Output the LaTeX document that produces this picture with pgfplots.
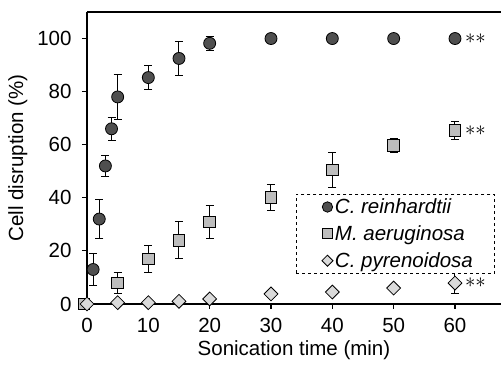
\documentclass[border=0pt]{standalone}
\usepackage{fontspec}
\setmainfont{Liberation Sans}
\usepackage{pgfplots}
\usepackage{pgfplotstable}
\pgfplotsset{compat=1.18}
\definecolor{cdark}{HTML}{4F4F4F}
\definecolor{cmid}{HTML}{BDBDBD}
\definecolor{clight}{HTML}{DADADA}
\pgfplotstableread{
x y e
1 13 6
2 32 7.5
3 52 4
4 66 4.3
5 78 8.5
10 85.3 4.5
15 92.5 6.5
20 98.2 2.6
30 100 0
40 100 0
50 100 0
60 100 0
}\reinh
\pgfplotstableread{
x y e
-0.5 0 0
5 8 4
10 17 5
15 24 7
20 31 6.2
30 40.2 4.8
40 50.5 6.7
50 59.7 2.5
60 65.4 3.5
}\aerug
\pgfplotstableread{
x y e
0 0 0
5 0.5 0.3
10 0.5 0.3
15 1 0.4
20 1.9 0.5
30 3.8 1.3
40 4.5 0.6
50 6 0.6
60 7.9 3.8
}\pyren
\pgfplotsset{
  ebar/.style={forget plot, draw=none, mark=none,
    error bars/.cd, y dir=both, y explicit,
    error bar style={solid, line width=1pt, black},
    error mark options={solid, line width=1pt, mark size=4pt, black, rotate=90}},
}
\begin{document}
\begin{tikzpicture}[font=\fontsize{20.5}{24}\selectfont]
\begin{axis}[
  scale only axis, width=414pt, height=292pt,
  xmin=0, xmax=67.5, ymin=0, ymax=110,
  axis x line=box, axis y line=left,
  axis line style={-, line width=1.1pt},
  xtick={0,10,...,60}, ytick={0,20,...,100},
  tick align=outside, xtick pos=bottom, ytick pos=left,
  major tick length=5pt, tick style={line width=1.1pt, black},
  /pgf/number format/assume math mode=true,
  xticklabel style={yshift=-6pt},
  yticklabel style={xshift=-7pt},
  xlabel={Sonication time (min)}, ylabel={Cell disruption (\%)},
  xlabel style={yshift=-1pt},
  ylabel style={yshift=3pt},
  clip=false,
  legend style={at={(rel axis cs:0.505,0.377)}, anchor=north west,
    draw=black, dashed, line width=0.8pt, font=\fontsize{20.5}{24}\selectfont\itshape,
    row sep=6.5pt, inner xsep=16pt, inner ysep=2.5pt},
  legend cell align=left,
  legend image code/.code={\path[draw=none, fill=none] (0pt,0pt) -- (20pt,0pt);
    \draw[#1] plot coordinates {(15pt,0pt)};},
]
\addplot[ebar] table[x=x, y=y, y error=e] {\reinh};
\addplot[ebar] table[x=x, y=y, y error=e] {\aerug};
\addplot[ebar] table[x=x, y=y, y error=e] {\pyren};
\addplot[only marks, mark=*, mark size=6pt,
  mark options={solid, fill=cdark, draw=black, line width=0.8pt},
  legend image post style={mark size=5.2pt}]
  table[x=x, y=y] {\reinh};
\addlegendentry{C. reinhardtii}
\addplot[only marks, mark=square*, mark size=5.8pt,
  mark options={solid, fill=cmid, draw=black, line width=0.8pt},
  legend image post style={mark size=5pt}]
  table[x=x, y=y] {\aerug};
\addlegendentry{M. aeruginosa}
\addplot[only marks, mark=square*, mark size=4.9pt,
  mark options={solid, fill=clight, draw=black, line width=0.8pt, rotate=45},
  legend image post style={mark size=3.9pt}]
  table[x=x, y=y] {\pyren};
\addlegendentry{C. pyrenoidosa\hspace*{4pt}}
\node[anchor=west, inner sep=0pt] at (axis cs:61.6,100) {${\ast}{\ast}$};
\node[anchor=west, inner sep=0pt] at (axis cs:61.6,65.4) {${\ast}{\ast}$};
\node[anchor=west, inner sep=0pt] at (axis cs:61.6,7.9) {${\ast}{\ast}$};
\end{axis}
\pgfresetboundingbox
\path[use as bounding box] (-87pt,-62pt) rectangle (414pt,304pt);
\end{tikzpicture}
\end{document}
